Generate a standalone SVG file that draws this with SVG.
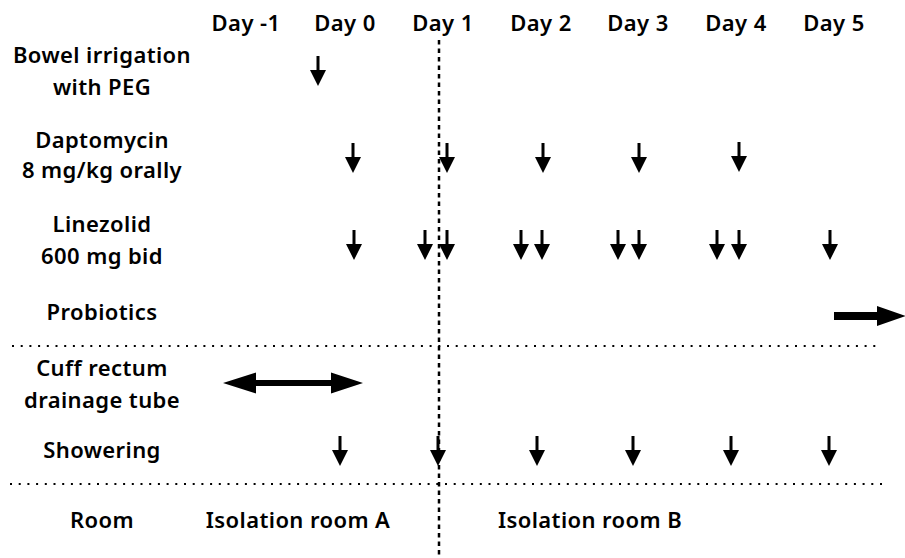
<svg xmlns="http://www.w3.org/2000/svg" xmlns:xlink="http://www.w3.org/1999/xlink" width="905" height="558" viewBox="0 0 905 558">
<style>
text{font-family:"Noto Sans","Liberation Sans",Arial,sans-serif;font-size:22px;font-weight:600;letter-spacing:0.4px;fill:#000;text-anchor:middle}
.dot{stroke:#000;stroke-width:2;stroke-dasharray:2 6.7;fill:none}
.dash{stroke:#000;stroke-width:2.5;stroke-dasharray:4.5 4;fill:none}
.ar{fill:#000}
</style>
<defs>
<path id="dn" d="M-1.5,0 H1.5 V14 H8 L0,30 L-8,14 H-1.5 Z"/>
</defs>
<rect width="905" height="558" fill="#fff"/>
<g id="header">
<text x="246" y="31">Day -1</text>
<text x="345" y="31">Day 0</text>
<text x="443" y="31">Day 1</text>
<text x="541" y="31">Day 2</text>
<text x="638" y="31">Day 3</text>
<text x="736" y="31">Day 4</text>
<text x="834" y="31">Day 5</text>
</g>
<g id="labels">
<text x="102" y="63">Bowel irrigation</text>
<text x="102" y="95">with PEG</text>
<text x="102" y="148">Daptomycin</text>
<text x="102" y="178">8 mg/kg orally</text>
<text x="102" y="232">Linezolid</text>
<text x="102" y="264">600 mg bid</text>
<text x="102" y="320">Probiotics</text>
<text x="102" y="376">Cuff rectum</text>
<text x="102" y="408">drainage tube</text>
<text x="102" y="458">Showering</text>
<text x="102" y="528">Room</text>
<text x="298" y="528">Isolation room A</text>
<text x="590" y="528">Isolation room B</text>
</g>
<g id="connectors">
<line class="dash" x1="439" y1="40" x2="439" y2="558"/>
<line class="dot" x1="12" y1="346" x2="882" y2="346"/>
<line class="dot" x1="10" y1="484" x2="882" y2="484"/>
</g>
<g id="bowel" class="ar">
<use xlink:href="#dn" x="318" y="56"/>
</g>
<g id="daptomycin" class="ar">
<use xlink:href="#dn" x="353" y="143"/>
<use xlink:href="#dn" x="447" y="143"/>
<use xlink:href="#dn" x="543" y="143"/>
<use xlink:href="#dn" x="639" y="143"/>
<use xlink:href="#dn" x="739" y="142"/>
</g>
<g id="linezolid" class="ar">
<use xlink:href="#dn" x="354" y="230"/>
<use xlink:href="#dn" x="425" y="230"/>
<use xlink:href="#dn" x="447" y="230"/>
<use xlink:href="#dn" x="521" y="230"/>
<use xlink:href="#dn" x="542" y="230"/>
<use xlink:href="#dn" x="618" y="230"/>
<use xlink:href="#dn" x="639" y="230"/>
<use xlink:href="#dn" x="717" y="230"/>
<use xlink:href="#dn" x="739" y="230"/>
<use xlink:href="#dn" x="830" y="230"/>
</g>
<g id="probiotics" class="ar">
<path d="M834,312 H877 V306 L906,316 L877,326 V320 H834 Z"/>
</g>
<g id="cuff" class="ar">
<path d="M223,383 L256,372.5 V380 H331 V372.5 L363,383 L331,393.5 V386 H256 V393.5 Z"/>
</g>
<g id="showering" class="ar">
<use xlink:href="#dn" x="340" y="436"/>
<use xlink:href="#dn" x="438" y="436"/>
<use xlink:href="#dn" x="537" y="436"/>
<use xlink:href="#dn" x="633" y="436"/>
<use xlink:href="#dn" x="731" y="436"/>
<use xlink:href="#dn" x="829" y="436"/>
</g>
</svg>
